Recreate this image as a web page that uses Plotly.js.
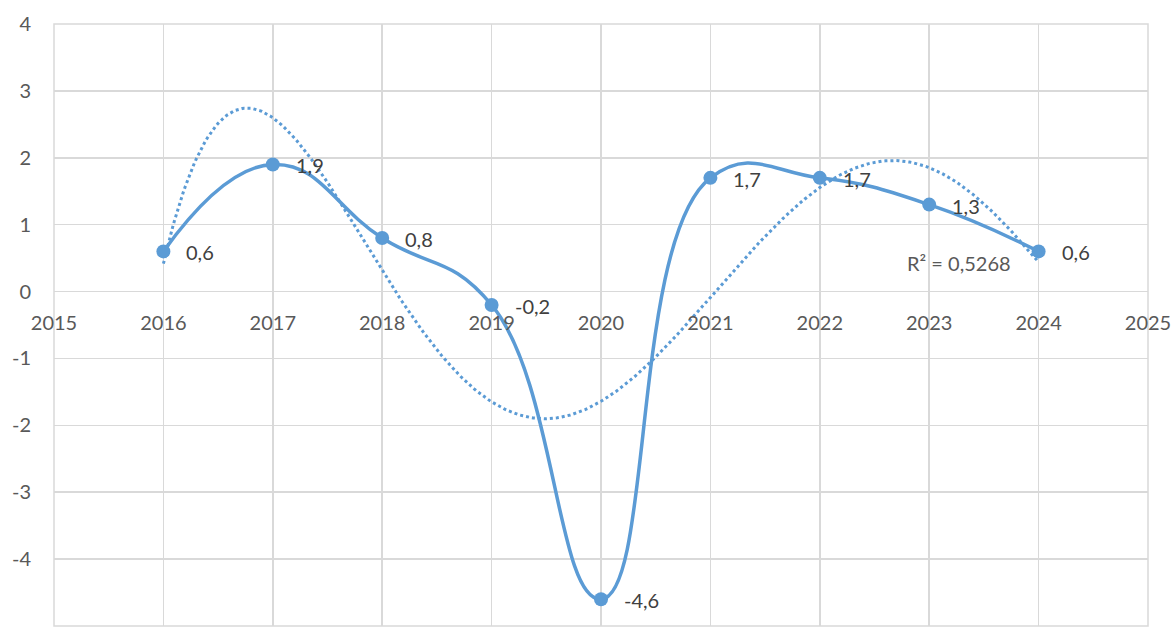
<!DOCTYPE html>
<html>
<head>
<meta charset="utf-8">
<script src="https://cdn.plot.ly/plotly-3.0.1.min.js"></script>
<style>html,body{margin:0;padding:0;background:#fff;}#chart{width:1173px;height:632px;}</style>
</head>
<body>
<div id="chart"></div>
<script>
const years = [2016, 2017, 2018, 2019, 2020, 2021, 2022, 2023, 2024];
const values = [0.6, 1.9, 0.8, -0.2, -4.6, 1.7, 1.7, 1.3, 0.6];
const labels = ["0,6", "1,9", "0,8", "-0,2", "-4,6", "1,7", "1,7", "1,3", "0,6"];
const xTicks = [2015, 2016, 2017, 2018, 2019, 2020, 2021, 2022, 2023, 2024, 2025];
const yTicks = [-5, -4, -3, -2, -1, 0, 1, 2, 3, 4];
const trendOrder = 5;
const r2Text = "R² = 0,5268";

// polynomial least-squares trendline computed from the data
function polyfit(xs, ys, order) {
  const n = order + 1;
  const A = [], b = [];
  for (let i = 0; i < n; i++) { A.push(new Array(n).fill(0)); b.push(0); }
  for (let k = 0; k < xs.length; k++) {
    for (let i = 0; i < n; i++) {
      for (let j = 0; j < n; j++) A[i][j] += Math.pow(xs[k], i + j);
      b[i] += ys[k] * Math.pow(xs[k], i);
    }
  }
  for (let i = 0; i < n; i++) {
    let p = i;
    for (let r = i + 1; r < n; r++) if (Math.abs(A[r][i]) > Math.abs(A[p][i])) p = r;
    [A[i], A[p]] = [A[p], A[i]]; [b[i], b[p]] = [b[p], b[i]];
    for (let r = i + 1; r < n; r++) {
      const f = A[r][i] / A[i][i];
      for (let c = i; c < n; c++) A[r][c] -= f * A[i][c];
      b[r] -= f * b[i];
    }
  }
  const coef = new Array(n).fill(0);
  for (let i = n - 1; i >= 0; i--) {
    let s = b[i];
    for (let c = i + 1; c < n; c++) s -= A[i][c] * coef[c];
    coef[i] = s / A[i][i];
  }
  return coef;
}
const xc = 2020;
const rel = years.map(y => y - xc);
const coef = polyfit(rel, values, trendOrder);
const trendX = [], trendY = [];
for (let t = 0; t <= 400; t++) {
  const xr = rel[0] + (rel[rel.length - 1] - rel[0]) * t / 400;
  let v = 0;
  for (let i = 0; i < coef.length; i++) v += coef[i] * Math.pow(xr, i);
  trendX.push(xc + xr); trendY.push(v);
}

const blue = '#5b9bd5';
const grid = '#d9d9d9';
const fontFam = 'Lato, "Open Sans", sans-serif';

const data = [
  {
    x: trendX, y: trendY, mode: 'lines', type: 'scatter',
    line: {color: blue, width: 3, dash: 'dot'}, hoverinfo: 'skip'
  },
  {
    x: years, y: values, mode: 'lines+markers', type: 'scatter',
    line: {color: blue, width: 3.5, shape: 'spline', smoothing: 1.3},
    marker: {color: blue, size: 14}
  }
];

const annotations = years.map((yr, i) => ({
  x: yr, y: values[i], text: labels[i], showarrow: false,
  xanchor: 'left', yanchor: 'middle', xshift: 21, yshift: -1,
  font: {family: fontFam, size: 20, color: '#404040'}
}));
annotations.push({
  x: 2023.27, y: 0.42, text: r2Text, showarrow: false,
  xanchor: 'center', yanchor: 'middle',
  font: {family: fontFam, size: 20, color: '#595959'}
});

const layout = {
  width: 1173, height: 632,
  margin: {l: 54, r: 25, t: 24, b: 6},
  paper_bgcolor: '#fff', plot_bgcolor: '#fff',
  showlegend: false,
  font: {family: fontFam, size: 20, color: '#595959'},
  xaxis: {
    range: [2015, 2025], tickvals: xTicks, ticktext: xTicks.map(String),
    showgrid: true, gridcolor: grid, gridwidth: 1.5, zeroline: false,
    anchor: 'free', position: 5 / 9, showline: false,
    ticks: 'outside', ticklen: 13, tickcolor: 'rgba(0,0,0,0)',
    tickfont: {family: fontFam, size: 20, color: '#595959'}
  },
  yaxis: {
    range: [-5, 4], tickvals: yTicks, ticktext: yTicks.map(String),
    showgrid: true, gridcolor: grid, gridwidth: 1.5,
    zeroline: true, zerolinecolor: grid, zerolinewidth: 1.5,
    ticks: 'outside', ticklen: 18, tickcolor: 'rgba(0,0,0,0)',
    tickfont: {family: fontFam, size: 20, color: '#595959'}
  },
  shapes: [{
    type: 'rect', xref: 'paper', yref: 'paper', x0: 0, x1: 1, y0: 0, y1: 1,
    line: {color: grid, width: 1.5}, layer: 'below'
  }],
  annotations: annotations
};

Plotly.newPlot('chart', data, layout, {displayModeBar: false, staticPlot: true});
</script>
</body>
</html>
